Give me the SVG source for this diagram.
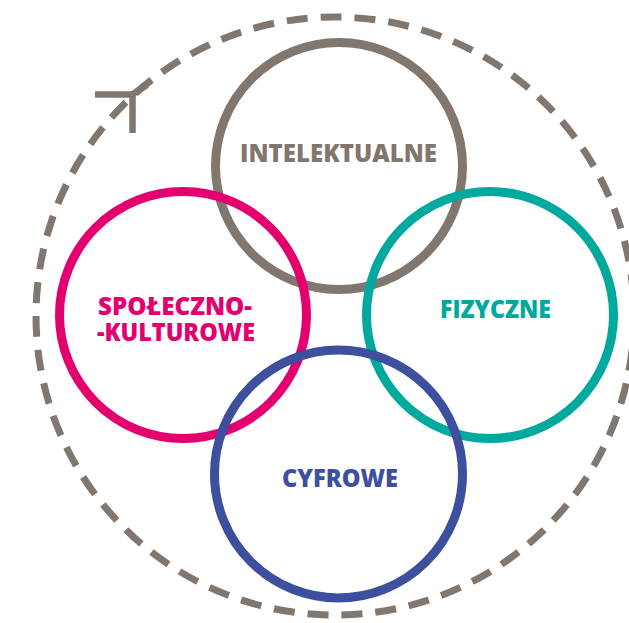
<svg xmlns="http://www.w3.org/2000/svg" width="629" height="623" viewBox="0 0 629 623">
<style>
.ring{fill:none;stroke-width:9}
.lbl{font-family:"Open Sans","Liberation Sans",Arial,sans-serif;font-weight:800;font-size:24.5px;text-anchor:middle}
</style>
<rect width="629" height="623" fill="#ffffff"/>
<g id="connectors">
<circle cx="335" cy="316" r="299" fill="none" stroke="#82776e" stroke-width="7" stroke-dasharray="21 13"/>
<polyline points="95,94.5 132.5,94.5 132.5,133" fill="none" stroke="#82776e" stroke-width="6.5"/>
<line x1="131" y1="95" x2="147" y2="85" stroke="#82776e" stroke-width="6.5"/>
</g>
<g id="intelektualne">
<circle class="ring" cx="339" cy="166" r="123.5" stroke="#82776e"/>
<text class="lbl" x="338.5" y="161.5" fill="#82776e" textLength="197" lengthAdjust="spacingAndGlyphs">INTELEKTUALNE</text>
</g>
<g id="spoleczno">
<circle class="ring" cx="183" cy="315" r="123.5" stroke="#e3006e"/>
<text class="lbl" fill="#e3006e"><tspan x="175" y="315" textLength="154" lengthAdjust="spacingAndGlyphs">SPOŁECZNO-</tspan><tspan x="176" y="340.5" textLength="158" lengthAdjust="spacingAndGlyphs">-KULTUROWE</tspan></text>
</g>
<g id="fizyczne">
<circle class="ring" cx="490" cy="315" r="123.5" stroke="#00a99d"/>
<text class="lbl" x="495.5" y="318.3" fill="#00a99d" textLength="111" lengthAdjust="spacingAndGlyphs">FIZYCZNE</text>
</g>
<g id="cyfrowe">
<circle class="ring" cx="338.5" cy="474" r="124" stroke="#3e4f9e"/>
<text class="lbl" x="340" y="487" fill="#3e4f9e" textLength="116" lengthAdjust="spacingAndGlyphs">CYFROWE</text>
</g>
</svg>
